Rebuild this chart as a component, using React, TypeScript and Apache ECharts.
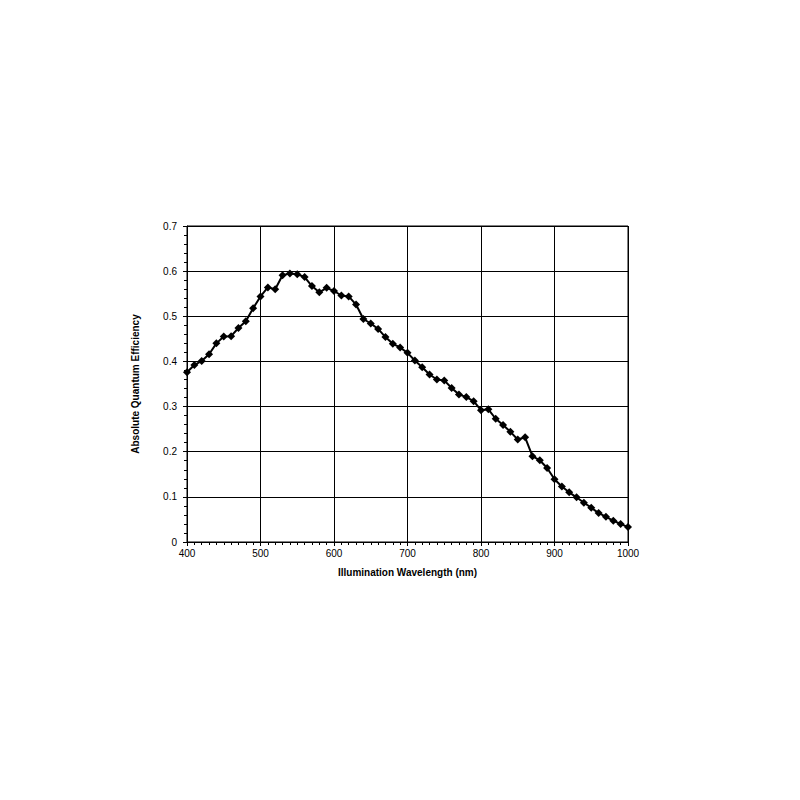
import React, { useEffect, useRef } from "react";
import * as echarts from "echarts";

const wavelengths: number[] = [
  400, 410, 420, 430, 440, 450, 460, 470, 480, 490,
  500, 510, 520, 530, 540, 550, 560, 570, 580, 590,
  600, 610, 620, 630, 640, 650, 660, 670, 680, 690,
  700, 710, 720, 730, 740, 750, 760, 770, 780, 790,
  800, 810, 820, 830, 840, 850, 860, 870, 880, 890,
  900, 910, 920, 930, 940, 950, 960, 970, 980, 990, 1000,
];

const efficiency: number[] = [
  0.376, 0.392, 0.401, 0.416, 0.44, 0.455, 0.456, 0.474, 0.489, 0.518,
  0.544, 0.564, 0.56, 0.591, 0.595, 0.593, 0.587, 0.567, 0.553, 0.563,
  0.556, 0.546, 0.544, 0.526, 0.494, 0.484, 0.472, 0.454, 0.439, 0.431,
  0.419, 0.402, 0.387, 0.371, 0.36, 0.358, 0.341, 0.327, 0.321, 0.312,
  0.292, 0.294, 0.273, 0.259, 0.244, 0.227, 0.232, 0.19, 0.181, 0.164,
  0.139, 0.123, 0.11, 0.099, 0.087, 0.076, 0.064, 0.056, 0.047, 0.04, 0.033,
];

const xAxisTitle = "Illumination Wavelength (nm)";
const yAxisTitle = "Absolute Quantum Efficiency";

export default function App() {
  const ref = useRef<HTMLDivElement>(null);
  useEffect(() => {
    if (!ref.current) return;
    const chart = echarts.init(ref.current, null, { renderer: "svg" });
    const font = "'Liberation Sans', Arial, Helvetica, sans-serif";
    chart.setOption({
      animation: false,
      backgroundColor: "#fff",
      grid: {
        left: 187,
        right: 172,
        top: 226,
        bottom: 258,
        show: true,
        borderColor: "#000",
        borderWidth: 1,
      },
      xAxis: {
        type: "value",
        min: 400,
        max: 1000,
        interval: 100,
        name: xAxisTitle,
        nameLocation: "middle",
        nameGap: 25,
        nameTextStyle: { fontFamily: font, fontSize: 10, fontWeight: "bold", color: "#000" },
        axisLine: { show: true, lineStyle: { color: "#000", width: 1 } },
        axisTick: { show: true, inside: false, length: 4, lineStyle: { color: "#000" } },
        minorTick: { show: true, splitNumber: 10, length: 3, lineStyle: { color: "#000" } },
        axisLabel: {
          fontFamily: font,
          fontSize: 10,
          color: "#000",
          margin: 6,
          formatter: (v: number) => String(v),
        },
        splitLine: { show: true, lineStyle: { color: "#000", width: 1 } },
      },
      yAxis: {
        type: "value",
        min: 0,
        max: 0.7,
        interval: 0.1,
        name: yAxisTitle,
        nameLocation: "middle",
        nameGap: 47,
        nameRotate: 90,
        nameTextStyle: { fontFamily: font, fontSize: 10, fontWeight: "bold", color: "#000" },
        axisLine: { show: true, lineStyle: { color: "#000", width: 1 } },
        axisTick: { show: true, inside: false, length: 4, lineStyle: { color: "#000" } },
        minorTick: { show: true, splitNumber: 5, length: 3, lineStyle: { color: "#000" } },
        axisLabel: {
          fontFamily: font,
          fontSize: 10,
          color: "#000",
          margin: 10,
          formatter: (v: number) => String(Math.round(v * 10) / 10),
        },
        splitLine: { show: true, lineStyle: { color: "#000", width: 1 } },
      },
      series: [
        {
          type: "line",
          data: wavelengths.map((w, i) => [w, efficiency[i]]),
          symbol: "diamond",
          symbolSize: 8,
          showAllSymbol: true,
          lineStyle: { color: "#000", width: 2 },
          itemStyle: { color: "#000" },
        },
      ],
    });
    return () => chart.dispose();
  }, []);
  return <div ref={ref} style={{ width: 800, height: 800, position: "absolute", left: 0, top: 0 }} />;
}
